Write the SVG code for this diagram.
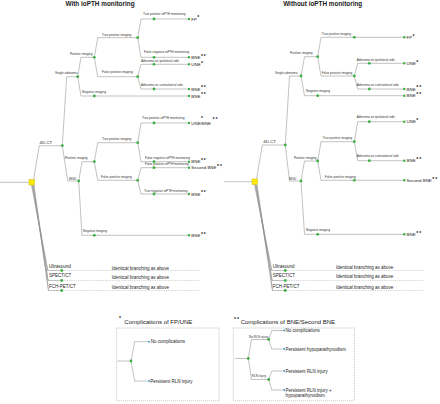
<svg xmlns="http://www.w3.org/2000/svg" width="440" height="404" viewBox="0 0 440 404">
<style>
text{font-family:"Liberation Sans",Arial,sans-serif;fill:#333}
.l{fill:none;stroke:#8f8f8f;stroke-width:0.55}
.d{fill:none;stroke:#b0b0b0;stroke-width:0.6;stroke-dasharray:0.9 0.9}
.n{fill:#3cb043}
.tm{fill:#3cb043}
.r{fill:#ffec00;stroke:#c9b800;stroke-width:0.5}
.b{fill:#2f8fd8}
.s{font-size:3.1px}
.t{font-size:4.4px;fill:#222}
.st{font-size:5px;font-weight:bold;fill:#222;letter-spacing:1px}
.m{font-size:4.3px;fill:#222}
.o{font-size:4.5px;fill:#222}
.h{font-size:6.4px;fill:#1a1a1a;font-weight:600}
.bt{font-size:6px;fill:#222}
.bx{fill:none;stroke:#999;stroke-width:0.6;stroke-dasharray:1 1}
.bl{font-size:4.5px;fill:#222}
</style>

<g id="titles">
<text class="h" x="100" y="5.8" text-anchor="middle">With ioPTH monitoring</text>
<text class="h" x="322.7" y="5.8" text-anchor="middle">Without ioPTH monitoring</text>
</g>

<g id="connectors">
<!-- left tree -->
<path class="l" d="M0 182.3H29"/>
<path class="l" d="M33.5 180L39.3 145.7H62.3"/>
<path class="l" d="M62.3 145.7L66.7 76.7H77.7"/>
<path class="l" d="M62.3 145.7L67.7 181H78.7"/>
<path class="l" d="M77.7 76.7L81 57.3H94.3"/>
<path class="l" d="M77.7 76.7L81 96H189"/>
<path class="l" d="M94.3 57.3L97.7 37.7H137.7"/>
<path class="l" d="M94.3 57.3L97.7 76.7H137.7"/>
<path class="l" d="M137.7 37.7L141 19H189"/>
<path class="l" d="M137.7 37.7L141 57.3H189"/>
<path class="l" d="M137.7 76.7L141 64.3H189"/>
<path class="l" d="M137.7 76.7L141 89H189"/>
<path class="l" d="M78.7 181L82 161.7H94.3"/>
<path class="l" d="M78.7 181L82 235.3H189"/>
<path class="l" d="M94.3 161.7L97.7 142.7H137.7"/>
<path class="l" d="M94.3 161.7L97.7 180.3H137.7"/>
<path class="l" d="M137.7 142.7L141 123H189"/>
<path class="l" d="M137.7 142.7L141 161.7H189"/>
<path class="l" d="M137.7 180.3L141 167.7H189"/>
<path class="l" d="M137.7 180.3L141 194H189"/>
<path class="l" d="M31.5 185L47.6 270.5H61.7"/>
<path class="l" d="M32.5 185L48 280.5H61.7"/>
<path class="l" d="M33.5 185L48.4 290.5H61.7"/>
<path class="l" d="M32 185L47.8 270.5"/>
<path class="l" d="M33 185L48.2 280.5"/>
<path class="l" d="M34 185L48.6 290.5"/>
<path class="d" d="M61.7 270.5H200M61.7 280.5H200M61.7 290.5H200"/>
<!-- right tree -->
<path class="l" d="M224 181.7H252"/>
<path class="l" d="M256.5 179.3L262.3 145H285.3"/>
<path class="l" d="M285.3 145L289.5 76H301"/>
<path class="l" d="M285.3 145L289.5 181H301"/>
<path class="l" d="M301 76L304.5 56.7H317.7"/>
<path class="l" d="M301 76L304.5 95.7H404.3"/>
<path class="l" d="M317.7 56.7L321 37.3H404.3"/>
<path class="l" d="M317.7 56.7L321 76H354.3"/>
<path class="l" d="M354.3 76L357.7 63.3H404.3"/>
<path class="l" d="M354.3 76L357.7 89H404.3"/>
<path class="l" d="M301 181L304.5 161H317.7"/>
<path class="l" d="M301 181L304.5 234.3H404.3"/>
<path class="l" d="M317.7 161L321 141.7H354.3"/>
<path class="l" d="M317.7 161L321 180.3H404.3"/>
<path class="l" d="M354.3 141.7L357.7 121.7H404.3"/>
<path class="l" d="M354.3 141.7L357.7 160.7H404.3"/>
<path class="l" d="M254.5 184.5L271.6 270.5H285.3"/>
<path class="l" d="M255.5 184.5L272 280.5H285.3"/>
<path class="l" d="M256.5 184.5L272.4 290.5H285.3"/>
<path class="l" d="M255 184.5L271.8 270.5"/>
<path class="l" d="M256 184.5L272.2 280.5"/>
<path class="l" d="M257 184.5L272.6 290.5"/>
<path class="d" d="M285.3 270.5H423M285.3 280.5H423M285.3 290.5H423"/>
<!-- boxes -->
<path class="l" d="M117.3 361H131"/>
<path class="l" d="M131 361L134.7 341.7H147.3"/>
<path class="l" d="M131 361L134.7 381H147.3"/>
<path class="l" d="M235 358.5H248.3"/>
<path class="l" d="M248.3 358.5L251.5 339.5H268.7"/>
<path class="l" d="M248.3 358.5L251.5 379.5H268.7"/>
<path class="l" d="M268.7 339.5L271.8 330.5H282.5"/>
<path class="l" d="M268.7 339.5L271.8 349H282.5"/>
<path class="l" d="M268.7 379.5L271.8 371H282.5"/>
<path class="l" d="M268.7 379.5L271.8 390H282.5"/>
</g>

<!-- LEFT TREE NODES -->
<g id="L-root"><rect class="r" x="29" y="179.6" width="5.4" height="5.4"/></g>
<g id="L-4dct"><circle class="n" cx="62.3" cy="145.7" r="1.4"/><text class="m" x="39.5" y="143.6">4D-CT</text></g>
<g id="L-single"><circle class="n" cx="77.7" cy="76.7" r="1.4"/><text class="s" x="55" y="74.2">Single adenoma</text></g>
<g id="L-posimg1"><circle class="n" cx="94.3" cy="57.3" r="1.4"/><text class="s" x="70" y="55.2">Positive imaging</text></g>
<g id="L-negimg1"><circle class="n" cx="94.3" cy="96" r="1.4"/><text class="s" x="82" y="92.8">Negative imaging</text><circle class="tm" cx="189" cy="96" r="1.2"/><text class="t" x="191.3" y="97.6">BNE<tspan class="st" dx="0.6" dy="-1.2">**</tspan></text></g>
<g id="L-tpimg1"><circle class="n" cx="137.7" cy="37.7" r="1.4"/><text class="s" x="102" y="36">True positive imaging</text></g>
<g id="L-fpimg1"><circle class="n" cx="137.7" cy="76.7" r="1.4"/><text class="s" x="102" y="73.2">False positive imaging</text></g>
<g id="L-tpio1"><circle class="n" cx="154" cy="19" r="1.4"/><text class="s" x="143" y="15">True positive ioPTH monitoring</text><circle class="tm" cx="189" cy="19" r="1.2"/><text class="t" x="191.3" y="20.6">FP<tspan class="st" dx="0.3" dy="-1.2">*</tspan></text></g>
<g id="L-fnio1"><circle class="n" cx="154" cy="57.3" r="1.4"/><text class="s" x="144" y="53">False negative ioPTH monitoring</text><circle class="tm" cx="189" cy="57.3" r="1.2"/><text class="t" x="191.3" y="58.9">BNE<tspan class="st" dx="0.6" dy="-1.2">**</tspan></text></g>
<g id="L-ipsi1"><circle class="n" cx="154" cy="64.3" r="1.4"/><text class="s" x="141" y="61.7">Adenoma on ipsilateral side</text><circle class="tm" cx="189" cy="64.3" r="1.2"/><text class="t" x="191.3" y="65.9">UNE<tspan class="st" dx="0.3" dy="-1.2">*</tspan></text></g>
<g id="L-contra1"><circle class="n" cx="154" cy="89" r="1.4"/><text class="s" x="141" y="86">Adenoma on contralateral side</text><circle class="tm" cx="189" cy="89" r="1.2"/><text class="t" x="191.3" y="90.6">BNE<tspan class="st" dx="0.6" dy="-1.2">**</tspan></text></g>
<g id="L-mgd"><circle class="n" cx="78.7" cy="181" r="1.4"/><text class="s" x="69" y="180">MGD</text></g>
<g id="L-posimg2"><circle class="n" cx="94.3" cy="161.7" r="1.4"/><text class="s" x="65" y="159">Positive imaging</text></g>
<g id="L-negimg2"><circle class="n" cx="94.3" cy="235.3" r="1.4"/><text class="s" x="83" y="232.3">Negative imaging</text><circle class="tm" cx="189" cy="235.3" r="1.2"/><text class="t" x="191.3" y="236.9">BNE<tspan class="st" dx="0.6" dy="-1.2">**</tspan></text></g>
<g id="L-tpimg2"><circle class="n" cx="137.7" cy="142.7" r="1.4"/><text class="s" x="102" y="140">True positive imaging</text></g>
<g id="L-fpimg2"><circle class="n" cx="137.7" cy="180.3" r="1.4"/><text class="s" x="101" y="178.3">False positive imaging</text></g>
<g id="L-tpio2"><circle class="n" cx="154" cy="123" r="1.4"/><text class="s" x="142" y="119.3">True positive ioPTH monitoring</text><circle class="tm" cx="189" cy="123" r="1.2"/><text class="t" x="191.3" y="124.6">UNE/BNE</text><text class="st" x="201" y="120">*</text><text class="st" x="212.5" y="121.4">**</text></g>
<g id="L-fnio2"><circle class="n" cx="154" cy="161.7" r="1.4"/><text class="s" x="145" y="158.7">False negative ioPTH monitoring</text><circle class="tm" cx="189" cy="161.7" r="1.2"/><text class="t" x="191.3" y="163.3">BNE<tspan class="st" dx="0.6" dy="-1.2">**</tspan></text></g>
<g id="L-fpio2"><circle class="n" cx="154" cy="167.7" r="1.4"/><text class="s" x="145" y="165">False positive ioPTH monitoring</text><circle class="tm" cx="189" cy="167.7" r="1.2"/><text class="t" x="191.3" y="169.3">Second BNE<tspan class="st" dx="0.6" dy="-1.2">**</tspan></text></g>
<g id="L-tnio2"><circle class="n" cx="154" cy="194" r="1.4"/><text class="s" x="144" y="191.7">True negative ioPTH monitoring</text><circle class="tm" cx="189" cy="194" r="1.2"/><text class="t" x="191.3" y="195.6">BNE<tspan class="st" dx="0.6" dy="-1.2">**</tspan></text></g>
<g id="L-us"><circle class="n" cx="61.7" cy="270.5" r="1.4"/><text class="o" x="49" y="267.8">Ultrasound</text><text class="o" x="111.7" y="269.7">Identical branching as above</text></g>
<g id="L-spect"><circle class="n" cx="61.7" cy="280.5" r="1.4"/><text class="o" x="49" y="276.8">SPECT/CT</text><text class="o" x="111.7" y="279">Identical branching as above</text></g>
<g id="L-fch"><circle class="n" cx="61.7" cy="290.5" r="1.4"/><text class="o" x="49" y="288.3">FCH-PET/CT</text><text class="o" x="111.7" y="289.3">Identical branching as above</text></g>

<!-- RIGHT TREE NODES -->
<g id="R-root"><rect class="r" x="252" y="179" width="5.4" height="5.4"/></g>
<g id="R-4dct"><circle class="n" cx="285.3" cy="145" r="1.4"/><text class="m" x="263.3" y="142.6">4D-CT</text></g>
<g id="R-single"><circle class="n" cx="301" cy="76" r="1.4"/><text class="s" x="275" y="73.8">Single adenoma</text></g>
<g id="R-posimg1"><circle class="n" cx="317.7" cy="56.7" r="1.4"/><text class="s" x="290" y="54.4">Positive imaging</text></g>
<g id="R-negimg1"><circle class="n" cx="317.7" cy="95.7" r="1.4"/><text class="s" x="306" y="91.8">Negative imaging</text><circle class="tm" cx="404.3" cy="95.7" r="1.2"/><text class="t" x="406.6" y="97.3">BNE<tspan class="st" dx="0.6" dy="-1.2">**</tspan></text></g>
<g id="R-tpimg1"><circle class="n" cx="354.3" cy="37.3" r="1.4"/><text class="s" x="321.7" y="35.4">True positive imaging</text><circle class="tm" cx="404.3" cy="37.3" r="1.2"/><text class="t" x="406.6" y="38.9">FP<tspan class="st" dx="0.3" dy="-1.2">*</tspan></text></g>
<g id="R-fpimg1"><circle class="n" cx="354.3" cy="76" r="1.4"/><text class="s" x="321.7" y="73.8">False positive imaging</text></g>
<g id="R-ipsi1"><circle class="n" cx="369.3" cy="63.3" r="1.4"/><text class="s" x="356.7" y="61.1">Adenoma on ipsilateral side</text><circle class="tm" cx="404.3" cy="63.3" r="1.2"/><text class="t" x="406.6" y="64.9">UNE<tspan class="st" dx="0.3" dy="-1.2">*</tspan></text></g>
<g id="R-contra1"><circle class="n" cx="369.3" cy="89" r="1.4"/><text class="s" x="356.7" y="86.4">Adenoma on contralateral side</text><circle class="tm" cx="404.3" cy="89" r="1.2"/><text class="t" x="406.6" y="90.6">BNE<tspan class="st" dx="0.6" dy="-1.2">**</tspan></text></g>
<g id="R-mgd"><circle class="n" cx="301" cy="181" r="1.4"/><text class="s" x="289" y="180">MGD</text></g>
<g id="R-posimg2"><circle class="n" cx="317.7" cy="161" r="1.4"/><text class="s" x="294" y="158.8">Positive imaging</text></g>
<g id="R-negimg2"><circle class="n" cx="317.7" cy="234.3" r="1.4"/><text class="s" x="306" y="231.1">Negative imaging</text><circle class="tm" cx="404.3" cy="234.3" r="1.2"/><text class="t" x="406.6" y="235.9">BNE<tspan class="st" dx="0.6" dy="-1.2">**</tspan></text></g>
<g id="R-tpimg2"><circle class="n" cx="354.3" cy="141.7" r="1.4"/><text class="s" x="322.7" y="139.4">True positive imaging</text></g>
<g id="R-fpimg2"><circle class="n" cx="354.3" cy="180.3" r="1.4"/><text class="s" x="325" y="177.8">False positive imaging</text><circle class="tm" cx="404.3" cy="180.3" r="1.2"/><text class="t" x="406.6" y="181.9">Second BNE<tspan class="st" dx="0.6" dy="-1.2">**</tspan></text></g>
<g id="R-ipsi2"><circle class="n" cx="369.3" cy="121.7" r="1.4"/><text class="s" x="356.7" y="118.4">Adenoma on ipsilateral side</text><circle class="tm" cx="404.3" cy="121.7" r="1.2"/><text class="t" x="406.6" y="123.3">UNE<tspan class="st" dx="0.3" dy="-1.2">*</tspan></text></g>
<g id="R-contra2"><circle class="n" cx="369.3" cy="160.7" r="1.4"/><text class="s" x="356.7" y="157.1">Adenoma on contralateral side</text><circle class="tm" cx="404.3" cy="160.7" r="1.2"/><text class="t" x="406.6" y="162.3">BNE<tspan class="st" dx="0.6" dy="-1.2">**</tspan></text></g>
<g id="R-us"><circle class="n" cx="285.3" cy="270.5" r="1.4"/><text class="o" x="272.7" y="267.5">Ultrasound</text><text class="o" x="336" y="268.6">Identical branching as above</text></g>
<g id="R-spect"><circle class="n" cx="285.3" cy="280.5" r="1.4"/><text class="o" x="272.7" y="276.8">SPECT/CT</text><text class="o" x="336" y="278.3">Identical branching as above</text></g>
<g id="R-fch"><circle class="n" cx="285.3" cy="290.5" r="1.4"/><text class="o" x="272.7" y="288.3">FCH-PET/CT</text><text class="o" x="336" y="288.8">Identical branching as above</text></g>

<!-- LEGEND BOX 1 -->
<g id="box1">
<rect class="bx" x="116.7" y="328" width="102.3" height="72.8"/>
<text class="st" x="119" y="320">*</text>
<text class="bt" x="124.3" y="323.8">Complications of FP/UNE</text>
</g>
<g id="box1-node"><circle class="n" cx="131" cy="361" r="1.4"/></g>
<g id="box1-nocomp"><polygon class="b" points="147.3,341.7 149.6,340.4 149.6,343"/><text class="bl" x="150.7" y="343.3">No complications</text></g>
<g id="box1-rln"><polygon class="b" points="147.3,381 149.6,379.7 149.6,382.3"/><text class="bl" x="150.3" y="382.6">Persistent RLN injury</text></g>

<!-- LEGEND BOX 2 -->
<g id="box2">
<rect class="bx" x="233.3" y="328" width="121" height="72.8"/>
<text class="st" x="234" y="320.5">**</text>
<text class="bt" x="240.7" y="323.8">Complications of BNE/Second BNE</text>
</g>
<g id="box2-node"><circle class="n" cx="248.3" cy="358.5" r="1.4"/></g>
<g id="box2-norln"><circle class="n" cx="268.7" cy="339.5" r="1.4"/><text class="s" x="249" y="337.6">No RLN injury</text></g>
<g id="box2-rln"><circle class="n" cx="268.7" cy="379.5" r="1.4"/><text class="s" x="251.7" y="377">RLN injury</text></g>
<g id="box2-nocomp"><polygon class="b" points="282.5,330.5 284.8,329.2 284.8,331.8"/><text class="bl" x="285.5" y="332">No complications</text></g>
<g id="box2-hypo"><polygon class="b" points="282.5,349 284.8,347.7 284.8,350.3"/><text class="bl" x="285.5" y="350.5">Persistent hypoparathyroidism</text></g>
<g id="box2-prln"><polygon class="b" points="282.5,371 284.8,369.7 284.8,372.3"/><text class="bl" x="285.5" y="372.5">Persistent RLN injury</text></g>
<g id="box2-prlnhypo"><polygon class="b" points="282.5,390 284.8,388.7 284.8,391.3"/><text class="bl" x="285.5" y="391.5">Persistent RLN injury +</text><text class="bl" x="285.5" y="397.3">hypoparathyroidism</text></g>
</svg>
